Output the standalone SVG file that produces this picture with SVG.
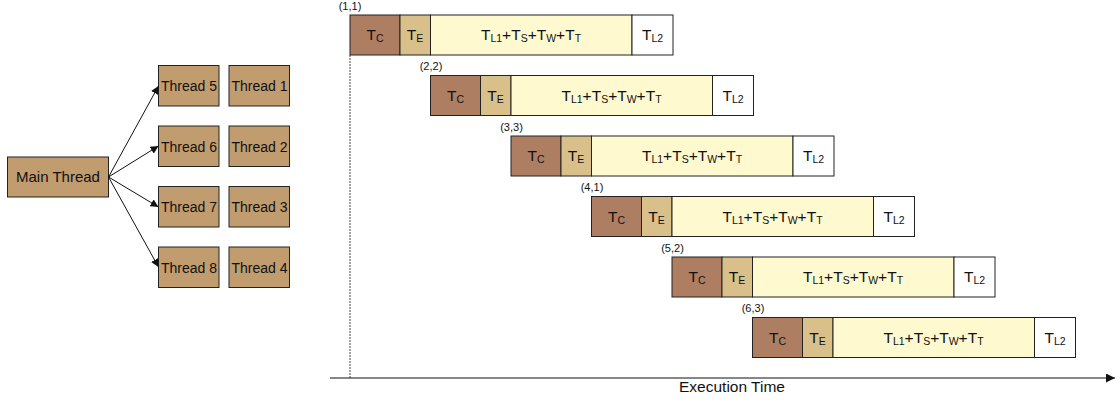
<svg xmlns="http://www.w3.org/2000/svg" width="1120" height="402" viewBox="0 0 1120 402">
<defs>
<marker id="ah" viewBox="0 0 10 10" refX="10" refY="5" markerWidth="8" markerHeight="8" markerUnits="userSpaceOnUse" orient="auto">
<path d="M0,0 L10,5 L0,10 z" fill="#111"/>
</marker>
<marker id="ah2" viewBox="0 0 10 10" refX="10" refY="5" markerWidth="9" markerHeight="9" markerUnits="userSpaceOnUse" orient="auto">
<path d="M0,0 L10,5 L0,10 z" fill="#111"/>
</marker>
<style>
text{font-family:"Liberation Sans",Arial,sans-serif;fill:#111}
.box{fill:#C19C6F;stroke:#222;stroke-width:1}
.tc{fill:#AD7E62;stroke:#222;stroke-width:1}
.te{fill:#D9C08A;stroke:#222;stroke-width:1}
.tl{fill:#FFF9CF;stroke:#222;stroke-width:1}
.t2{fill:#FFFFFF;stroke:#222;stroke-width:1}
.big{font-size:15.5px;text-anchor:middle}
.lbl{font-size:11px;text-anchor:middle}
.conn{stroke:#111;stroke-width:1;fill:none}
</style>
<g id="bar">
<rect class="tc" x="0" y="0" width="50" height="40"/>
<rect class="te" x="50" y="0" width="30.5" height="40"/>
<rect class="tl" x="80.5" y="0" width="201.5" height="40"/>
<rect class="t2" x="282" y="0" width="41" height="40"/>
<text class="big" x="25" y="25">T<tspan font-size="10.5" dy="2">C</tspan></text>
<text class="big" x="65" y="25">T<tspan font-size="10.5" dy="2">E</tspan></text>
<text class="big" x="181" y="25">T<tspan font-size="10.5" dy="2">L1</tspan><tspan dy="-2">+T</tspan><tspan font-size="10.5" dy="2">S</tspan><tspan dy="-2">+T</tspan><tspan font-size="10.5" dy="2">W</tspan><tspan dy="-2">+T</tspan><tspan font-size="10.5" dy="2">T</tspan></text>
<text class="big" x="302.5" y="25">T<tspan font-size="10.5" dy="2">L2</tspan></text>
</g>
</defs>

<g id="main-thread"><rect class="box" x="7.5" y="157" width="101" height="40"/><text x="58" y="182" font-size="15" text-anchor="middle">Main Thread</text></g>
<g id="thread5"><rect class="box" x="158.5" y="65.5" width="60.5" height="40.5"/><text x="189" y="91" font-size="14" text-anchor="middle">Thread 5</text></g>
<g id="thread6"><rect class="box" x="158.5" y="126" width="60.5" height="40.5"/><text x="189" y="151.5" font-size="14" text-anchor="middle">Thread 6</text></g>
<g id="thread7"><rect class="box" x="158.5" y="186.5" width="60.5" height="40.5"/><text x="189" y="212" font-size="14" text-anchor="middle">Thread 7</text></g>
<g id="thread8"><rect class="box" x="158.5" y="247" width="60.5" height="40.5"/><text x="189" y="272.5" font-size="14" text-anchor="middle">Thread 8</text></g>
<g id="thread1"><rect class="box" x="229" y="65.5" width="60.5" height="40.5"/><text x="259.5" y="91" font-size="14" text-anchor="middle">Thread 1</text></g>
<g id="thread2"><rect class="box" x="229" y="126" width="60.5" height="40.5"/><text x="259.5" y="151.5" font-size="14" text-anchor="middle">Thread 2</text></g>
<g id="thread3"><rect class="box" x="229" y="186.5" width="60.5" height="40.5"/><text x="259.5" y="212" font-size="14" text-anchor="middle">Thread 3</text></g>
<g id="thread4"><rect class="box" x="229" y="247" width="60.5" height="40.5"/><text x="259.5" y="272.5" font-size="14" text-anchor="middle">Thread 4</text></g>

<g id="connectors">
<line class="conn" x1="108.5" y1="177" x2="158.5" y2="86" marker-end="url(#ah)"/>
<line class="conn" x1="108.5" y1="177" x2="158.5" y2="146" marker-end="url(#ah)"/>
<line class="conn" x1="108.5" y1="177" x2="158.5" y2="207" marker-end="url(#ah)"/>
<line class="conn" x1="108.5" y1="177" x2="158.5" y2="267" marker-end="url(#ah)"/>
<line x1="350" y1="55" x2="350" y2="378" stroke="#444" stroke-width="1" stroke-dasharray="2,1"/>
<line class="conn" x1="330" y1="378" x2="1115" y2="378" stroke-width="1.3" marker-end="url(#ah2)"/>
</g>

<g id="task1"><use href="#bar" x="350" y="15"/><text class="lbl" x="350" y="10">(1,1)</text></g>
<g id="task2"><use href="#bar" x="430.5" y="75.5"/><text class="lbl" x="431" y="70">(2,2)</text></g>
<g id="task3"><use href="#bar" x="511" y="136"/><text class="lbl" x="511.5" y="130.5">(3,3)</text></g>
<g id="task4"><use href="#bar" x="591.5" y="196.5"/><text class="lbl" x="592" y="191">(4,1)</text></g>
<g id="task5"><use href="#bar" x="672" y="257"/><text class="lbl" x="672.5" y="251.5">(5,2)</text></g>
<g id="task6"><use href="#bar" x="752.5" y="317.5"/><text class="lbl" x="753" y="312">(6,3)</text></g>

<text x="732" y="392" font-size="15.5" text-anchor="middle">Execution Time</text>
</svg>
